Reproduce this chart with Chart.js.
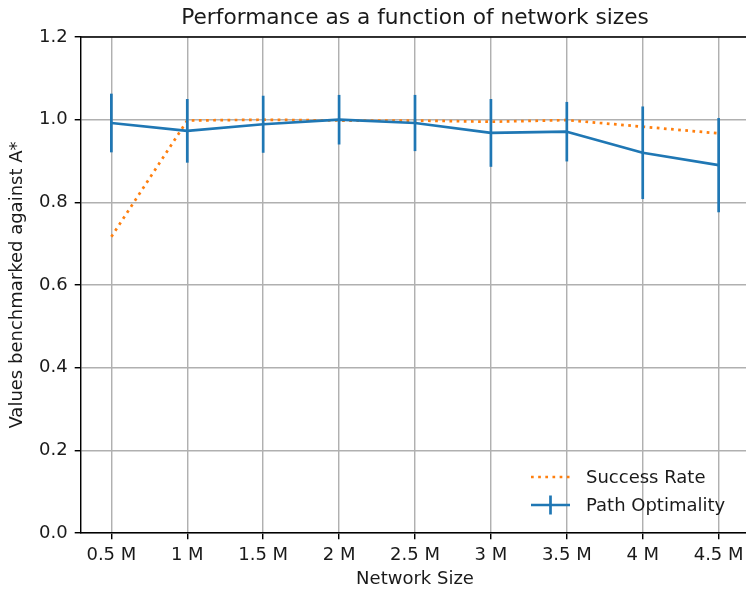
<!DOCTYPE html>
<html>
<head>
<meta charset="utf-8">
<title>Performance as a function of network sizes</title>
<script src="https://cdn.jsdelivr.net/npm/chart.js@4.4.1/dist/chart.umd.min.js"></script>
<style>
  html, body { margin: 0; padding: 0; background: #ffffff; overflow: hidden; }
  #wrap { width: 746px; height: 592px; overflow: hidden; }
  #chart { display: block; }
</style>
</head>
<body>
<div id="wrap"><canvas id="chart" width="750" height="592"></canvas></div>
<script>
// Network sizes (millions of nodes) and their tick labels
const sizes = [0.5, 1, 1.5, 2, 2.5, 3, 3.5, 4, 4.5];
const sizeLabels = ['0.5 M', '1 M', '1.5 M', '2 M', '2.5 M', '3 M', '3.5 M', '4 M', '4.5 M'];
const yTicks = [0, 0.2, 0.4, 0.6, 0.8, 1.0, 1.2];

// Results relative to A*
const successRate = [0.717, 0.998, 1.000, 0.998, 0.998, 0.995, 0.999, 0.983, 0.967];
const pathOptimality = [0.992, 0.973, 0.989, 1.000, 0.992, 0.968, 0.971, 0.920, 0.890];
const pathOptimalityErr = [0.071, 0.077, 0.069, 0.060, 0.068, 0.082, 0.072, 0.112, 0.114];

const BLUE = '#1f77b4';
const ORANGE = '#ff7f0e';
const GRID = '#b0b0b0';
const INK = '#1a1a1a';
const FONT = "'DejaVu Sans', sans-serif";
const LW = 2.7;
const SPINE = 1.44;
const DOT = [2.7, 4.46];

// Vertical error bars for the path optimality series
const errorBars = {
  id: 'errorBars',
  afterDatasetsDraw(chart) {
    const x = chart.scales.x, y = chart.scales.y;
    const ctx = chart.ctx;
    const a = chart.chartArea;
    ctx.save();
    ctx.beginPath();
    ctx.rect(a.left, a.top, a.right - a.left, a.bottom - a.top);
    ctx.clip();
    ctx.strokeStyle = BLUE;
    ctx.lineWidth = LW;
    ctx.lineCap = 'butt';
    sizes.forEach((s, i) => {
      const px = x.getPixelForValue(s);
      ctx.beginPath();
      ctx.moveTo(px, y.getPixelForValue(pathOptimality[i] - pathOptimalityErr[i]));
      ctx.lineTo(px, y.getPixelForValue(pathOptimality[i] + pathOptimalityErr[i]));
      ctx.stroke();
    });
    ctx.restore();
  }
};

// Top/right frame lines and the in-plot legend
const frameAndLegend = {
  id: 'frameAndLegend',
  afterDraw(chart) {
    const ctx = chart.ctx;
    const a = chart.chartArea;
    ctx.save();
    ctx.strokeStyle = '#000';
    ctx.lineWidth = SPINE;
    ctx.beginPath();
    ctx.moveTo(a.left, a.top);
    ctx.lineTo(a.right, a.top);
    ctx.lineTo(a.right, a.bottom);
    ctx.stroke();

    const hx0 = a.right - 218, hx1 = a.right - 179, tx = a.right - 163;
    const rows = [
      { label: 'Success Rate', y: a.bottom - 56, dotted: true, color: ORANGE },
      { label: 'Path Optimality', y: a.bottom - 28, dotted: false, color: BLUE }
    ];
    ctx.font = '18px ' + FONT;
    ctx.textBaseline = 'middle';
    ctx.textAlign = 'left';
    rows.forEach(r => {
      ctx.strokeStyle = r.color;
      ctx.lineWidth = LW;
      ctx.lineCap = 'butt';
      ctx.setLineDash(r.dotted ? DOT : []);
      ctx.beginPath();
      ctx.moveTo(hx0, r.y);
      ctx.lineTo(hx1, r.y);
      ctx.stroke();
      ctx.setLineDash([]);
      if (!r.dotted) {
        const mx = (hx0 + hx1) / 2;
        ctx.beginPath();
        ctx.moveTo(mx, r.y - 9.5);
        ctx.lineTo(mx, r.y + 9.5);
        ctx.stroke();
      }
      ctx.fillStyle = INK;
      ctx.fillText(r.label, tx, r.y + 1);
    });
    ctx.restore();
  }
};

new Chart(document.getElementById('chart'), {
  type: 'line',
  data: {
    datasets: [
      {
        label: 'Path Optimality',
        data: sizes.map((s, i) => ({ x: s, y: pathOptimality[i] })),
        borderColor: BLUE,
        borderWidth: LW,
        borderJoinStyle: 'round',
        pointRadius: 0,
        tension: 0,
        fill: false,
        order: 0
      },
      {
        label: 'Success Rate',
        data: sizes.map((s, i) => ({ x: s, y: successRate[i] })),
        borderColor: ORANGE,
        borderWidth: LW,
        borderDash: DOT,
        borderCapStyle: 'butt',
        pointRadius: 0,
        tension: 0,
        fill: false,
        order: 1
      }
    ]
  },
  options: {
    responsive: false,
    animation: false,
    devicePixelRatio: 1,
    layout: { padding: { left: 0, right: 1, top: 0, bottom: 0 } },
    plugins: {
      legend: { display: false },
      tooltip: { enabled: false },
      title: {
        display: true,
        fullSize: false,
        text: 'Performance as a function of network sizes',
        color: INK,
        font: { family: FONT, size: 21.7, weight: 'normal' },
        padding: { top: 5, bottom: 6 }
      }
    },
    scales: {
      x: {
        type: 'linear',
        min: 0.3,
        max: 4.7,
        afterBuildTicks: (axis) => { axis.ticks = sizes.map(v => ({ value: v })); },
        afterFit: (axis) => { axis.height = 59; },
        ticks: {
          autoSkip: false,
          maxRotation: 0,
          padding: 5,
          color: INK,
          font: { family: FONT, size: 18 },
          callback: (v, i) => sizeLabels[i]
        },
        grid: { color: GRID, lineWidth: 1.44, tickColor: '#000', tickLength: 6.3, tickWidth: SPINE },
        border: { display: true, color: '#000', width: SPINE },
        title: {
          display: true,
          text: 'Network Size',
          color: INK,
          font: { family: FONT, size: 18 },
          padding: { top: 0, bottom: 2 }
        }
      },
      y: {
        type: 'linear',
        min: 0,
        max: 1.2,
        afterBuildTicks: (axis) => { axis.ticks = yTicks.map(v => ({ value: v })); },
        afterFit: (axis) => { axis.width = 81; },
        ticks: {
          padding: 7,
          color: INK,
          font: { family: FONT, size: 18 },
          callback: (v) => Number(v).toFixed(1)
        },
        grid: { color: GRID, lineWidth: 1.44, tickColor: '#000', tickLength: 6.3, tickWidth: SPINE },
        border: { display: true, color: '#000', width: SPINE },
        title: {
          display: true,
          text: 'Values benchmarked against A*',
          color: INK,
          font: { family: FONT, size: 18 },
          padding: { top: 7, bottom: 0 }
        }
      }
    }
  },
  plugins: [errorBars, frameAndLegend]
});
</script>
</body>
</html>
